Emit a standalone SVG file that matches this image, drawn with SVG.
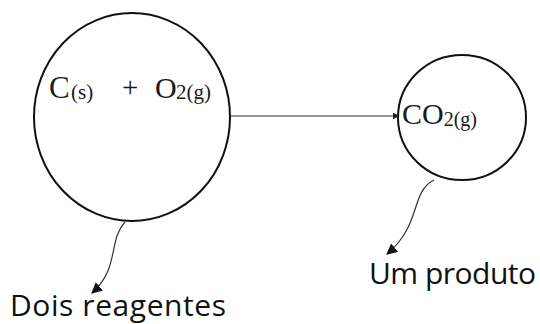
<svg xmlns="http://www.w3.org/2000/svg" width="540" height="324" viewBox="0 0 540 324">
<defs>
<style>
.node{fill:none;stroke:#111;stroke-width:2}
.chem{font-family:"Liberation Serif",serif;fill:#1a1a1a}
.lbl{font-family:"Open Sans",sans-serif;fill:#111;font-size:30px}
.conn{fill:none;stroke:#333;stroke-width:1.2}
</style>
<marker id="ah" viewBox="0 0 10 10" refX="9" refY="5" markerWidth="7" markerHeight="7" markerUnits="userSpaceOnUse" orient="auto">
<path d="M0,0 L10,5 L0,10 Z" fill="#222"/>
</marker>
<marker id="ah2" viewBox="0 0 10 10" refX="9" refY="5" markerWidth="11" markerHeight="11" markerUnits="userSpaceOnUse" orient="auto">
<path d="M0,0 L10,5 L0,10 Z" fill="#111"/>
</marker>
</defs>
<g id="reagentes">
<ellipse class="node" cx="132" cy="117" rx="98" ry="104"/>
<text class="chem" y="98"><tspan x="49" font-size="31">C</tspan><tspan x="71" font-size="21" dy="1">(s)</tspan></text>
<text class="chem" x="122" y="97" font-size="29">+</text>
<text class="chem" y="98"><tspan x="155" font-size="30">O</tspan><tspan x="176" font-size="21" dy="1">2(g)</tspan></text>
</g>
<g id="produto">
<ellipse class="node" cx="462" cy="117.5" rx="64" ry="62.5"/>
<text class="chem" y="124"><tspan x="402" font-size="30">CO</tspan><tspan font-size="20" dy="2">2(g)</tspan></text>
</g>
<g id="label-reagentes">
<text class="lbl" x="10" y="316" textLength="216">Dois reagentes</text>
</g>
<g id="label-produto">
<text class="lbl" x="369" y="284" textLength="167">Um produto</text>
</g>
<g id="connectors">
<line class="conn" x1="231" y1="116" x2="399" y2="116" marker-end="url(#ah)"/>
<path class="conn" d="M125,222 C108,240 120,268 92,293" marker-end="url(#ah2)"/>
<path class="conn" d="M434,180 C410,192 422,225 387,254" marker-end="url(#ah2)"/>
</g>
</svg>
